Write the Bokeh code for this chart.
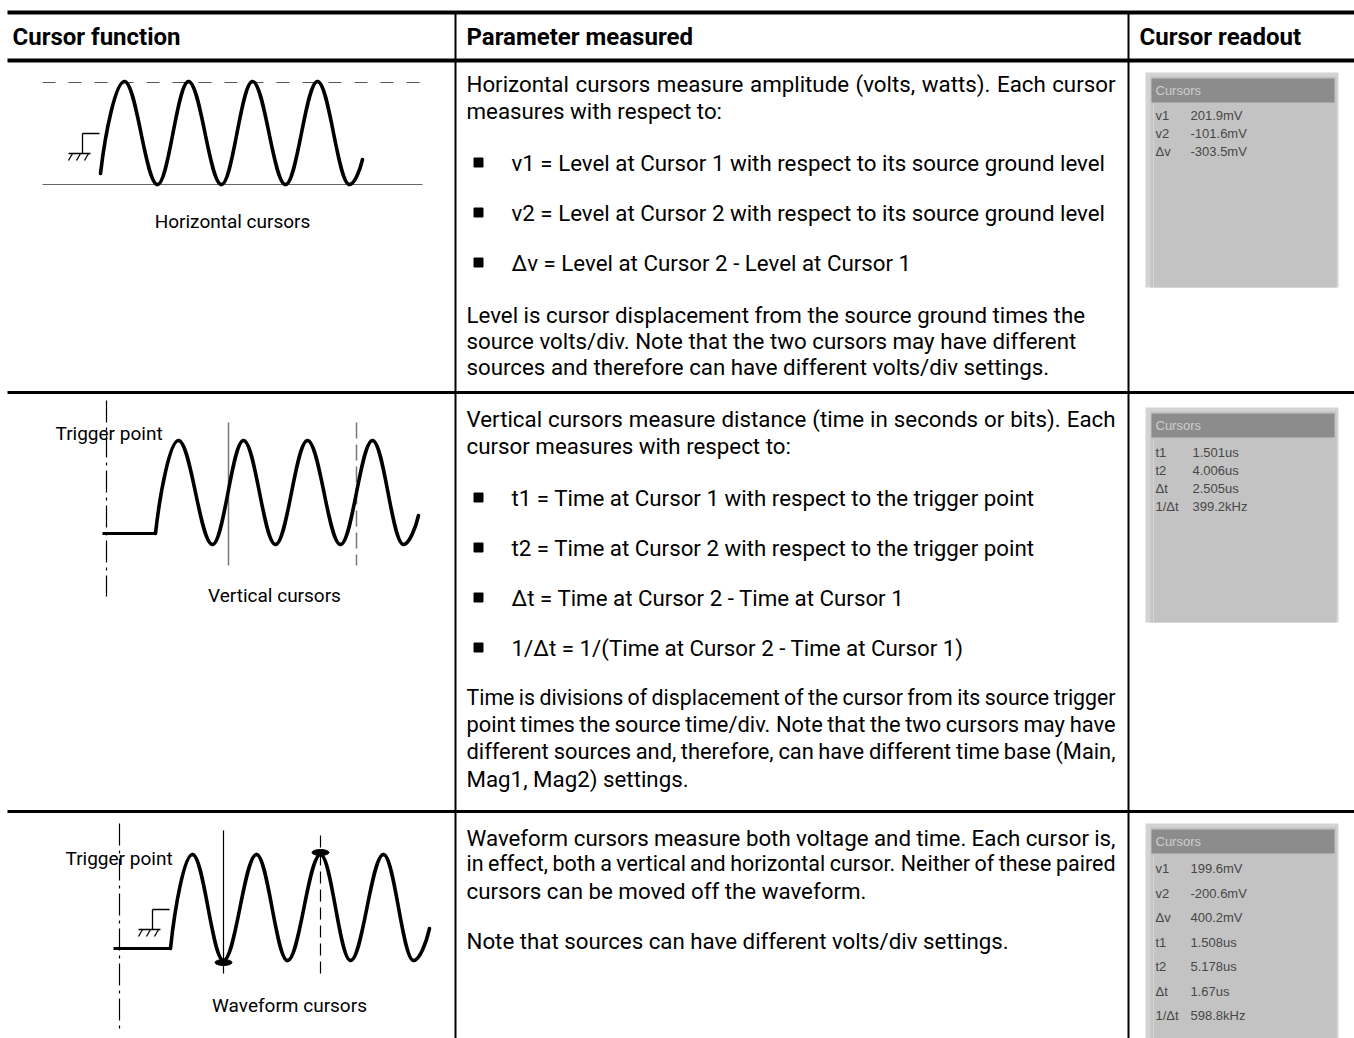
from bokeh.plotting import figure
from bokeh.models import Range1d
from bokeh.core.properties import value
from bokeh.embed import file_html
from bokeh.resources import INLINE

# ---------------- data ----------------
HEADERS = ["Cursor function", "Parameter measured", "Cursor readout"]
HEADER_X = [12, 466, 1139]

CAPTIONS = ["Horizontal cursors", "Vertical cursors", "Waveform cursors"]
CAPTION_X = [232, 274, 289]
CAPTION_Y = [221, 595, 1005]

TRIGGER_LABEL = "Trigger point"
TRIGGER_X = [55, 65]
TRIGGER_Y = [433, 858]

# waveform key points (extrema) for the three sketches
WAVE1_X = [100, 124, 157, 188, 221, 252, 285, 317, 349, 362]
WAVE1_Y = [173, 81, 184, 81, 184, 81, 184, 81, 184, 159]
WAVE2_X = [155, 178, 212, 243, 275, 307, 340, 372, 403, 418]
WAVE2_Y = [533, 440, 544, 440, 544, 440, 544, 440, 544, 515]
WAVE3_X = [170, 192, 223, 256, 287, 320, 350, 383, 413, 429]
WAVE3_Y = [948, 854, 960, 854, 960, 854, 960, 854, 960, 928]
FLAT2_X, FLAT2_Y = [102, 155], [533, 533]
FLAT3_X, FLAT3_Y = [113, 170], [948, 948]

# paragraph text (column 2): text, y, justified
ROW1_PARA = [
    ("Horizontal cursors measure amplitude (volts, watts). Each cursor", 83, True),
    ("measures with respect to:", 110, False),
    ("Level is cursor displacement from the source ground times the", 314, False),
    ("source volts/div. Note that the two cursors may have different", 340, False),
    ("sources and therefore can have different volts/div settings.", 366, False),
]
ROW1_BULLETS = [
    ("v1 = Level at Cursor 1 with respect to its source ground level", 162, False),
    ("v2 = Level at Cursor 2 with respect to its source ground level", 212, False),
    ("\u0394v = Level at Cursor 2 - Level at Cursor 1", 262, False),
]
ROW2_PARA = [
    ("Vertical cursors measure distance (time in seconds or bits). Each", 418, True),
    ("cursor measures with respect to:", 445, False),
    ("Time is divisions of displacement of the cursor from its source trigger", 697, True),
    ("point times the source time/div. Note that the two cursors may have", 724, True),
    ("different sources and, therefore, can have different time base (Main,", 751, True),
    ("Mag1, Mag2) settings.", 778, False),
]
ROW2_BULLETS = [
    ("t1 = Time at Cursor 1 with respect to the trigger point", 497, False),
    ("t2 = Time at Cursor 2 with respect to the trigger point", 547, False),
    ("\u0394t = Time at Cursor 2 - Time at Cursor 1", 597, False),
    ("1/\u0394t = 1/(Time at Cursor 2 - Time at Cursor 1)", 647, False),
]
ROW3_PARA = [
    ("Waveform cursors measure both voltage and time. Each cursor is,", 837, True),
    ("in effect, both a vertical and horizontal cursor. Neither of these paired", 863, True),
    ("cursors can be moved off the waveform.", 890, False),
    ("Note that sources can have different volts/div settings.", 940, False),
]

# readouts
READ1_LABELS = ["v1", "v2", "\u0394v"]
READ1_VALUES = ["201.9mV", "-101.6mV", "-303.5mV"]
READ2_LABELS = ["t1", "t2", "\u0394t", "1/\u0394t"]
READ2_VALUES = ["1.501us", "4.006us", "2.505us", "399.2kHz"]
READ3_LABELS = ["v1", "v2", "\u0394v", "t1", "t2", "\u0394t", "1/\u0394t"]
READ3_VALUES = ["199.6mV", "-200.6mV", "400.2mV", "1.508us", "5.178us", "1.67us", "598.8kHz"]

# ---------------- layout ----------------
W, H = 1354, 1038
BODY = "Roboto"
SMALL = "Liberation Sans"
BODY_SIZE = 22.3
TEXT_LEFT, TEXT_RIGHT = 466, 1115

# approximate Roboto advance widths (em) used to justify lines
EM = {
    'a': .544, 'b': .561, 'c': .523, 'd': .564, 'e': .530, 'f': .347, 'g': .561, 'h': .551,
    'i': .243, 'j': .239, 'k': .507, 'l': .243, 'm': .876, 'n': .552, 'o': .570, 'p': .561,
    'q': .568, 'r': .338, 's': .516, 't': .327, 'u': .551, 'v': .484, 'w': .751, 'x': .496,
    'y': .473, 'z': .496, 'A': .652, 'B': .622, 'C': .652, 'D': .656, 'E': .568, 'F': .553,
    'G': .682, 'H': .713, 'I': .272, 'L': .538, 'M': .873, 'N': .713, 'O': .688, 'P': .631,
    'R': .616, 'S': .593, 'T': .597, 'V': .636, 'W': .887, ' ': .248, '.': .263, ',': .196,
    '(': .342, ')': .348, '/': .412, ':': .242, '-': .276, '=': .549, '\u0394': .65,
}


def text_w(s, size):
    return sum(EM.get(ch, .561) for ch in s) * size


p = figure(width=W, height=H, x_range=Range1d(0, W), y_range=Range1d(H, 0),
           toolbar_location=None, output_backend="svg", min_border=0,
           x_axis_location=None, y_axis_location=None)
p.grid.visible = False
p.outline_line_color = None
p.background_fill_color = "white"
p.border_fill_color = "white"

COL1, COL2 = 455, 1128
TOP_Y, HEAD_Y, ROW1_Y, ROW2_Y = 12, 60, 392, 811

# table rules
p.segment(x0=[7, 7], y0=[TOP_Y, HEAD_Y], x1=[1360, 1360], y1=[TOP_Y, HEAD_Y],
          line_color="black", line_width=4)
p.segment(x0=[COL1, COL2], y0=[TOP_Y, TOP_Y], x1=[COL1, COL2], y1=[1040, 1040],
          line_color="black", line_width=2)
p.segment(x0=[7, 7], y0=[ROW1_Y, ROW2_Y], x1=[1360, 1360], y1=[ROW1_Y, ROW2_Y],
          line_color="black", line_width=3)

# headers
p.text(x=HEADER_X, y=[36] * 3, text=HEADERS, text_font=value(BODY), text_font_style="bold",
       text_font_size="24px", text_baseline="middle", text_align="left", text_color="black")

groups = {}


def add(size, align, x, y, t):
    key = (round(size, 2), align)
    groups.setdefault(key, ([], [], []))
    groups[key][0].append(x)
    groups[key][1].append(y)
    groups[key][2].append(t)


def body_text(lines, x0):
    for t, y, just in lines:
        if not just:
            add(BODY_SIZE, "left", x0, y, t)
            continue
        words = t.split(" ")
        target = TEXT_RIGHT - x0
        size = BODY_SIZE
        wsum = sum(text_w(w, size) for w in words)
        gap = (target - wsum) / (len(words) - 1)
        min_gap = 0.2 * size
        if gap < min_gap:
            size = size * (target - min_gap * (len(words) - 1)) / wsum
            wsum = sum(text_w(w, size) for w in words)
            gap = (target - wsum) / (len(words) - 1)
        cx = x0
        for i, w in enumerate(words):
            if i == len(words) - 1:
                add(size, "right", TEXT_RIGHT, y, w)
            else:
                add(size, "left", cx, y, w)
                cx += text_w(w, size) + gap


body_text(ROW1_PARA, TEXT_LEFT)
body_text(ROW2_PARA, TEXT_LEFT)
body_text(ROW3_PARA, TEXT_LEFT)
bul = ROW1_BULLETS + ROW2_BULLETS
body_text(bul, 511)

for (size, align), (xs, ys, ts) in groups.items():
    p.text(x=xs, y=ys, text=ts, text_font=value(BODY), text_font_size=f"{size}px",
           text_baseline="middle", text_align=align, text_color="black")

p.scatter(x=[478] * len(bul), y=[b[1] for b in bul], marker="square", size=9,
          fill_color="black", line_color="black")

# captions
p.text(x=CAPTION_X, y=CAPTION_Y, text=CAPTIONS, text_font=value(BODY), text_font_size="19px",
       text_baseline="middle", text_align="center", text_color="black")
p.text(x=TRIGGER_X, y=TRIGGER_Y, text=[TRIGGER_LABEL] * 2, text_font=value(BODY),
       text_font_size="19px", text_baseline="middle", text_align="left", text_color="black")


def wave(xs, ys, free_start=True, free_end=True, k=0.364):
    x0, y0, x1, y1, cx0, cy0, cx1, cy1 = ([] for _ in range(8))
    n = len(xs) - 1
    for i in range(n):
        a, b, c, d = xs[i], ys[i], xs[i + 1], ys[i + 1]
        dx, dy = c - a, d - b
        e0x, e0y = a + k * dx, b
        e1x, e1y = c - k * dx, d
        if i == 0 and free_start:
            e0x, e0y = a + 0.2 * dx, b + 0.45 * dy
        if i == n - 1 and free_end:
            e1x, e1y = c - 0.2 * dx, d - 0.45 * dy
        x0.append(a); y0.append(b); x1.append(c); y1.append(d)
        cx0.append(e0x); cy0.append(e0y); cx1.append(e1x); cy1.append(e1y)
    p.bezier(x0=x0, y0=y0, x1=x1, y1=y1, cx0=cx0, cy0=cy0, cx1=cx1, cy1=cy1,
             line_color="black", line_width=3.6, line_cap="round")


def ground(x, ytop):
    p.segment(x0=[x, x, x - 14], y0=[ytop, ytop, ytop + 20], x1=[x + 17, x, x + 8],
              y1=[ytop, ytop + 20, ytop + 20], line_color="black", line_width=1.3)
    hx = [x - 10, x - 2, x + 6]
    p.segment(x0=hx, y0=[ytop + 20] * 3, x1=[h - 4 for h in hx], y1=[ytop + 27] * 3,
              line_color="black", line_width=1.3)


# ---- sketch 1: horizontal cursors
p.line(x=[42, 422], y=[82, 82], line_color="#555555", line_width=1.2, line_dash="13 13")
p.line(x=[42, 422], y=[184, 184], line_color="#666666", line_width=1.2)
wave(WAVE1_X, WAVE1_Y)
ground(82, 133)

# ---- sketch 2: vertical cursors
p.line(x=[106, 106], y=[400, 596], line_color="black", line_width=1.2, line_dash="22 5 3 5")
p.line(x=[228, 228], y=[422, 565], line_color="#777777", line_width=1.5)
p.line(x=[356, 356], y=[422, 565], line_color="#777777", line_width=1.5, line_dash="16 6")
p.line(x=FLAT2_X, y=FLAT2_Y, line_color="black", line_width=3)
wave(WAVE2_X, WAVE2_Y)

# ---- sketch 3: waveform cursors
p.line(x=[119, 119], y=[823, 1028], line_color="black", line_width=1.2, line_dash="22 5 3 5")
p.line(x=[223, 223], y=[830, 973], line_color="black", line_width=1.2)
p.line(x=[320, 320], y=[835, 977], line_color="black", line_width=1.2, line_dash="12 6")
ground(152, 909)
p.line(x=FLAT3_X, y=FLAT3_Y, line_color="black", line_width=3)
wave(WAVE3_X, WAVE3_Y)
p.ellipse(x=[223, 320], y=[962, 852], width=17, height=6, fill_color="black", line_color="black")


# ---- readout panels
def panel(top, labels, values, first_y, step, vx):
    p.quad(left=1145, right=1338, top=top, bottom=top + 215, fill_color="#d3d3d3", line_color=None)
    p.quad(left=1150, right=1336, top=top + 4, bottom=top + 215, fill_color="#c3c3c3", line_color=None)
    p.quad(left=1151, right=1334, top=top + 6, bottom=top + 30, fill_color="#8c8c8c", line_color=None)
    p.segment(x0=[1153], y0=[top + 32], x1=[1153], y1=[top + 215], line_color="#d6d6d6", line_width=1)
    p.text(x=[1155], y=[top + 18], text=["Cursors"], text_font=value(SMALL), text_font_size="13px",
           text_baseline="middle", text_color="#cdcdcd")
    ys = [first_y + i * step for i in range(len(labels))]
    p.text(x=[1155] * len(labels), y=ys, text=labels, text_font=value(SMALL), text_font_size="13px",
           text_baseline="middle", text_color="#474747")
    p.text(x=[vx] * len(values), y=ys, text=values, text_font=value(SMALL), text_font_size="13px",
           text_baseline="middle", text_color="#474747")


panel(72, READ1_LABELS, READ1_VALUES, 115, 18, 1190)
panel(407, READ2_LABELS, READ2_VALUES, 452, 18, 1192)
panel(823, READ3_LABELS, READ3_VALUES, 868, 24.5, 1190)

open("out.html", "w").write(file_html(p, INLINE))
